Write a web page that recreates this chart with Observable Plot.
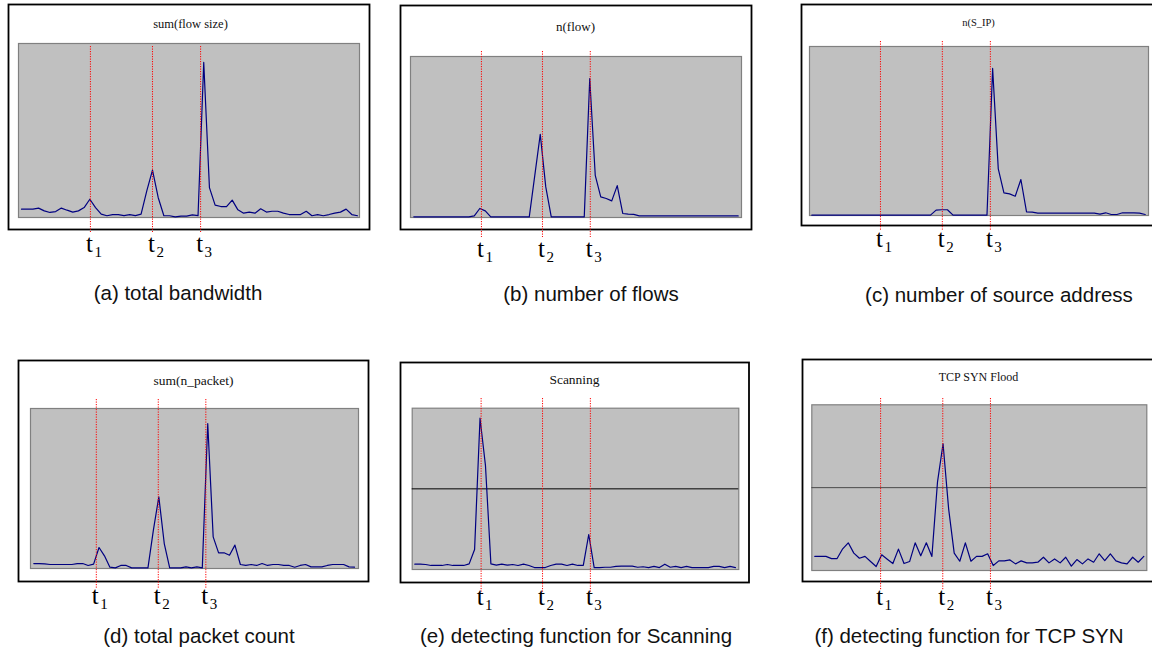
<!DOCTYPE html>
<html>
<head>
<meta charset="utf-8">
<script src="https://cdn.jsdelivr.net/npm/d3@7"></script>
<script src="https://cdn.jsdelivr.net/npm/@observablehq/plot@0.6"></script>
<style>
  html, body { margin: 0; padding: 0; background: #ffffff; }
  #root { position: relative; width: 1152px; height: 655px; overflow: hidden; background: #ffffff; }
  .caption { position: absolute; font-family: "Liberation Sans", Arial, sans-serif; font-size: 20.5px; line-height: 1; white-space: nowrap; color: #111; transform: translateX(-50%); }
</style>
</head>
<body>
<div id="root"></div>
<script>
// ---------------- data (normalised to % of each panel's plot height) ----------------
const bandwidth = [4.8,4.8,4.8,5.4,3.8,2.9,3.4,5.4,4.2,3.1, 3.8,5.7,10.5,5.7,1.9,1.0,1.7,1.7,1.1,1.7,
  1.1,1.9,15.3,27.2,11.5,1.0,1.0,0.4,0.8,0.8, 1.5,1.1,89.1,17.2,7.1,6.3,6.3,10.0,4.4,2.5,
  3.1,2.5,5.0,3.1,3.6,3.6,2.5,1.7,1.7,1.7, 3.6,1.0,1.7,1.0,1.7,2.5,3.1,4.8,1.7,1.0];
const flows = [0.4,0.4,0.4,0.4,0.4,0.4,0.4,0.4,0.4,0.4, 0.4,1.0,5.6,4.1,0.4,0.4,0.4,0.4,0.4,0.4,
  0.4,0.4,26.0,51.7,19.0,0.4,0.4,0.4,0.4,0.4, 0.4,0.4,86.2,26.2,12.8,11.8,10.3,19.8,2.5,2.1,
  1.9,1.0,1.0,1.0,1.0,1.0,1.0,1.0,1.0,1.0, 1.0,1.0,1.0,1.0,1.0,1.0,1.0,1.0,1.0,1.0];
const sources = [0.2,0.2,0.2,0.2,0.2,0.2,0.2,0.2,0.2,0.2, 0.2,0.2,0.2,0.2,0.2,0.2,0.2,0.2,0.2,0.2,
  0.2,0.2,3.2,3.4,3.4,0.2,0.2,0.2,0.2,0.2, 0.2,0.2,87.0,27.6,13.4,12.8,11.4,21.3,2.2,2.0,
  1.4,1.4,1.4,1.4,1.4,1.4,1.4,1.4,1.4,1.4, 1.4,0.8,1.6,0.6,0.6,1.6,1.6,1.6,1.4,0.6];
const packets = [3.1,3.1,2.9,2.5,2.5,2.5,2.5,2.5,3.1,3.1, 1.9,2.7,13.1,7.9,0.8,0.4,1.9,1.9,0.4,0.4,
  0.4,0.4,24.0,44.8,15.6,0.4,0.4,0.4,1.0,0.4, 1.0,0.4,90.6,19.8,9.8,9.8,8.3,14.6,2.5,1.9,
  2.5,1.9,3.1,1.9,2.5,2.5,1.9,1.9,0.8,1.9, 2.5,1.0,1.0,1.0,1.9,2.5,2.5,2.5,1.0,0.8];
const scanning = [3.3,3.3,3.1,2.5,2.5,2.5,3.1,2.5,2.5,2.5, 3.5,12.4,93.8,64.5,3.5,2.7,3.3,2.7,3.1,2.5,
  3.3,2.5,1.2,1.2,1.2,2.5,3.3,3.3,2.5,3.3, 2.5,2.5,21.7,1.2,1.2,1.4,1.4,1.9,2.1,2.1,
  2.1,1.4,1.7,1.2,1.9,1.2,3.3,1.4,1.9,1.2, 1.9,1.2,1.2,1.2,1.2,1.9,1.9,1.2,1.9,1.2];
const synFlood = [8.5,8.5,8.5,7.2,7.2,13.1,16.7,10.5,7.4,8.5, 5.4,2.4,9.5,6.8,4.2,12.9,4.2,5.4,16.7,8.9,
  16.7,8.5,53.3,76.5,37.2,10.5,5.6,16.7,5.6,8.5, 8.5,10.1,3.0,5.8,5.8,6.4,4.0,5.8,4.6,4.6,
  5.0,8.0,4.6,7.0,4.6,8.0,2.6,6.6,4.0,7.0, 5.0,10.1,6.0,10.1,5.8,4.6,4.0,8.0,5.0,8.5];

// event times t1, t2, t3 (in sample-index units, as marked in each panel)
const tA = [12.1, 23.0, 31.45];
const tB = [12.3, 23.4, 32.1];
const tC = [12.15, 23.1, 31.6];
const tD = [11.5, 22.9, 31.65];
const tE = [12.2, 23.5, 32.3];
const tF = [11.8, 22.95, 31.5];
const tSubscripts = ["1", "2", "3"];

const thresholdE = [50];
const thresholdF = [50];

const titles = ["sum(flow size)", "n(flow)", "n(S_IP)", "sum(n_packet)", "Scanning", "TCP SYN Flood"];
const captions = ["(a) total bandwidth", "(b) number of flows", "(c) number of source address",
  "(d) total packet count", "(e) detecting function for Scanning", "(f) detecting function for TCP SYN"];

// ---------------- layout (page pixel positions) ----------------
const layout = [
  {box:[8,4,369,229],    gray:[18,43,359,217],     line:[21,357],      title:[190,23,12.5],  red:[46,232],  tBase:251, cap:[178,300]},
  {box:[400,5,751,229],  gray:[410,56,741,217],    line:[413.3,737.7], title:[575,26,13],    red:[51,237],  tBase:256, cap:[591,301]},
  {box:[801,4,1156,225], gray:[809,46,1148,215],   line:[811.3,1144.7],title:[978,22,10.5],  red:[41,230],  tBase:246, cap:[999,302]},
  {box:[18,360,368,581], gray:[30,408,358,568],    line:[33.3,354],    title:[193,380,13.5], red:[399,588], tBase:603, cap:[199,643]},
  {box:[400,362,748.5,582], gray:[411.7,407.7,738.3,569], line:[414.3,735], title:[574,379,13.5], red:[398,592], tBase:604, cap:[576,643]},
  {box:[802,359,1156,581], gray:[811.3,404.3,1146.3,570], line:[814.3,1143.3], title:[978,377,12], red:[398,590], tBase:604, cap:[969,643]}
];

const seriesList = [bandwidth, flows, sources, packets, scanning, synFlood];
const tList = [tA, tB, tC, tD, tE, tF];
const thresholds = [null, null, null, null, thresholdE, thresholdF];
const thresholdColors = [null, null, null, null, "#000000", "#4a4a4a"];

const root = document.getElementById("root");
const serif = "'Liberation Serif', 'Times New Roman', serif";

layout.forEach((L, k) => {
  const values = seriesList[k];
  const tm = tList[k];
  const [bL, bT, bR, bB] = L.box;
  const [gL, gT, gR, gB] = L.gray;
  const svgL = bL - 3, svgT = bT - 3, svgR = bR + 3, svgB = L.tBase + 14;
  const width = svgR - svgL, height = svgB - svgT;
  const grayCx = (gL + gR) / 2;

  const marks = [
    Plot.frame({fill: "#ffffff", stroke: "#000000", strokeWidth: 1.8,
      insetLeft: -(gL - bL), insetTop: -(gT - bT), insetRight: -(bR - gR), insetBottom: -(bB - gB)}),
    Plot.frame({fill: "#c0c0c0", stroke: "#808080", strokeWidth: 1.2})
  ];
  if (thresholds[k]) marks.push(Plot.ruleY(thresholds[k], {y: d => d, stroke: thresholdColors[k], strokeWidth: 1}));
  marks.push(
    Plot.line(values, {x: (d, i) => i, y: d => d, stroke: "#000080", strokeWidth: 1.2}),
    Plot.ruleX(tm, {x: d => d, stroke: "#ff0000", strokeWidth: 1, strokeDasharray: "1.2,1.3",
      insetTop: -(gT - L.red[0]), insetBottom: -(L.red[1] - gB)}),
    Plot.text([titles[k]], {text: d => d, frameAnchor: "top", dx: L.title[0] - grayCx, dy: L.title[1] - gT,
      lineAnchor: "middle", fontFamily: serif, fontSize: L.title[2], fill: "#111"}),
    Plot.text(tm, {x: d => d, text: () => "t", frameAnchor: "bottom", dy: L.tBase - gB, dx: -1,
      lineAnchor: "bottom", textAnchor: "middle", fontFamily: serif, fontSize: 25, fill: "#000"}),
    Plot.text(tm, {x: d => d, text: (d, i) => tSubscripts[i], frameAnchor: "bottom", dy: L.tBase + 5 - gB, dx: 4,
      lineAnchor: "bottom", textAnchor: "start", fontFamily: serif, fontSize: 15, fill: "#000"})
  );

  const chart = Plot.plot({
    width, height,
    marginLeft: gL - svgL, marginTop: gT - svgT, marginRight: svgR - gR, marginBottom: svgB - gB,
    x: {domain: [0, values.length - 1], insetLeft: L.line[0] - gL, insetRight: gR - L.line[1], axis: null},
    y: {domain: [0, 100], axis: null},
    marks
  });
  chart.style.position = "absolute";
  chart.style.left = svgL + "px";
  chart.style.top = svgT + "px";
  chart.style.background = "transparent";
  chart.style.overflow = "visible";
  root.appendChild(chart);

  const cap = document.createElement("div");
  cap.className = "caption";
  cap.textContent = captions[k];
  cap.style.left = L.cap[0] + "px";
  cap.style.top = (L.cap[1] - 20.5 * 0.8465) + "px";
  root.appendChild(cap);
});
</script>
</body>
</html>
